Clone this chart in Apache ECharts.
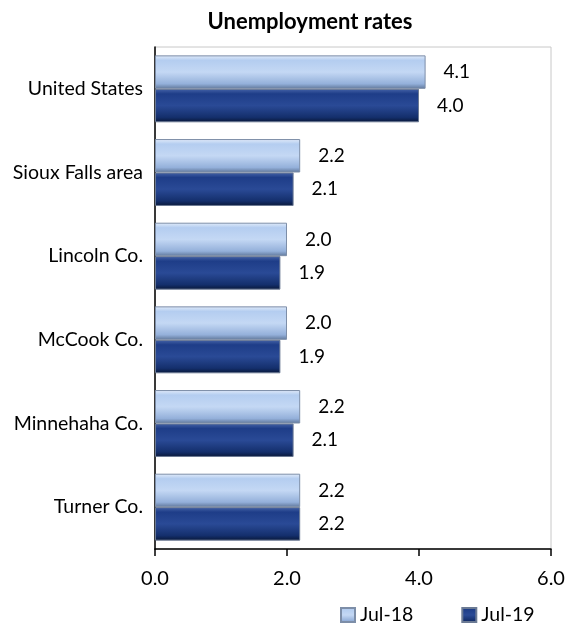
<!DOCTYPE html>
<html>
<head>
<meta charset="utf-8">
<script src="https://cdn.jsdelivr.net/npm/echarts@6/dist/echarts.min.js"></script>
<style>
html,body{margin:0;padding:0;background:#fff;}
#chart{width:568px;height:630px;}
</style>
</head>
<body>
<div id="chart"></div>
<script>
const categories = ['United States', 'Sioux Falls area', 'Lincoln Co.', 'McCook Co.', 'Minnehaha Co.', 'Turner Co.'];
const jul18 = [4.1, 2.2, 2.0, 2.0, 2.2, 2.2];
const jul19 = [4.0, 2.1, 1.9, 1.9, 2.1, 2.2];
const seriesNames = ['Jul-18', 'Jul-19'];
const xTicks = { min: 0, max: 6, interval: 2 };

const FONT = 'Lato, "Noto Sans", sans-serif';

function grad(stops) {
  return new echarts.graphic.LinearGradient(0, 0, 0, 1, stops.map(c => ({ offset: c[0], color: c[1] })));
}
const lightFill = grad([[0, '#e2ecfa'], [0.15, '#b4cdf0'], [0.5, '#c4d8f4'], [0.85, '#94b0da'], [1, '#5f7699']]);
const darkFill = grad([[0, '#4664a8'], [0.15, '#1e3d88'], [0.5, '#2a4a96'], [0.85, '#142f6c'], [1, '#081738']]);

const chart = echarts.init(document.getElementById('chart'), null, { renderer: 'canvas' });
chart.setOption({
  animation: false,
  backgroundColor: '#fff',
  title: {
    text: 'Unemployment rates',
    left: 305, top: 6, textAlign: 'center',
    textStyle: { fontFamily: FONT, fontSize: 22, fontWeight: 'bold', color: '#000' }
  },
  legend: {
    data: seriesNames,
    left: 335, top: 600,
    itemWidth: 14, itemHeight: 14, itemGap: 48,
    icon: 'rect',
    textStyle: { fontFamily: FONT, fontSize: 19.5, color: '#000' }
  },
  grid: {
    left: 155, right: 17, top: 47, bottom: 81,
    show: true, borderColor: '#c8c8c8', borderWidth: 1,
    containLabel: false
  },
  xAxis: {
    type: 'value', min: xTicks.min, max: xTicks.max, interval: xTicks.interval,
    axisLine: { show: true, lineStyle: { color: '#000', width: 1.5 } },
    axisTick: { show: true, inside: false, length: 7, lineStyle: { color: '#000', width: 1.5 } },
    splitLine: { show: false },
    axisLabel: { fontFamily: FONT, fontSize: 20, color: '#000', margin: 20, formatter: v => v.toFixed(1) }
  },
  yAxis: {
    type: 'category', data: categories, inverse: true,
    axisLine: { show: true, lineStyle: { color: '#000', width: 1.5 } },
    axisTick: { show: false },
    axisLabel: { fontFamily: FONT, fontSize: 19.5, color: '#000', margin: 12 }
  },
  series: [
    {
      name: seriesNames[0], type: 'bar', data: jul18,
      barGap: '0%', barCategoryGap: '20%',
      itemStyle: { color: lightFill, borderColor: '#7d8ea8', borderWidth: 1 },
      label: { show: true, position: 'right', distance: 18, fontFamily: FONT, fontSize: 19, color: '#000', formatter: p => p.value.toFixed(1) }
    },
    {
      name: seriesNames[1], type: 'bar', data: jul19,
      barGap: '0%', barCategoryGap: '20%',
      itemStyle: { color: darkFill, borderColor: '#6b7a94', borderWidth: 1 },
      label: { show: true, position: 'right', distance: 18, fontFamily: FONT, fontSize: 19, color: '#000', formatter: p => p.value.toFixed(1) }
    }
  ]
});
</script>
</body>
</html>
